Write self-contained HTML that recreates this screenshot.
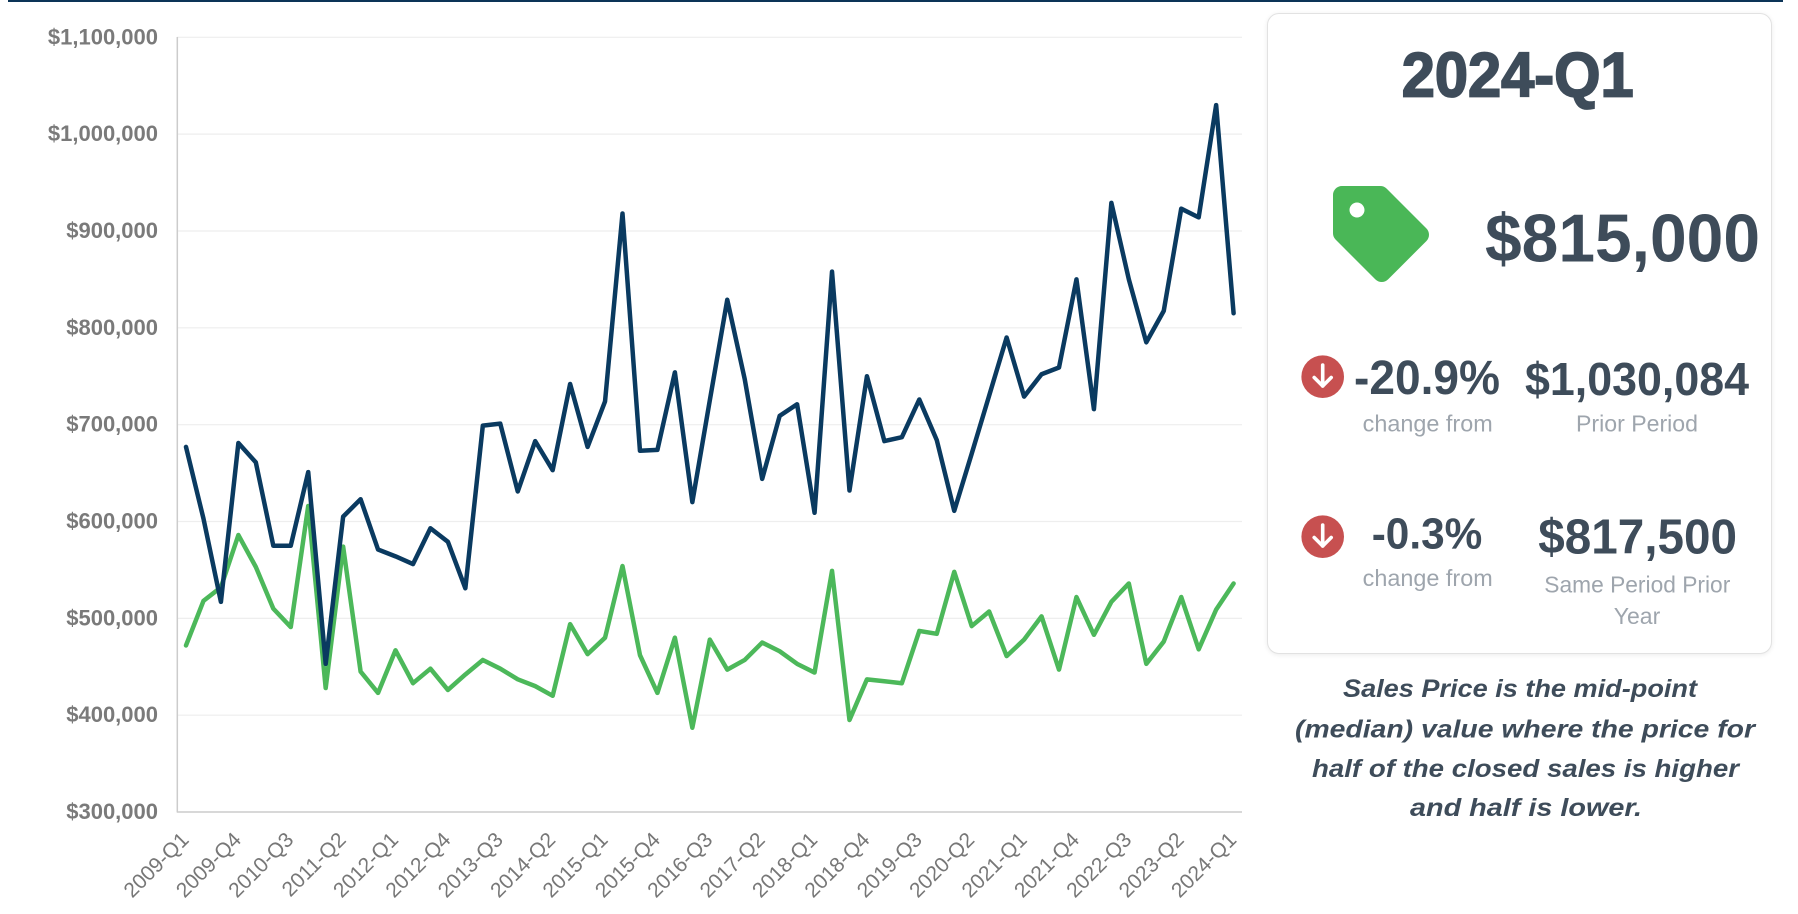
<!DOCTYPE html>
<html>
<head>
<meta charset="utf-8">
<style>
  html,body{margin:0;padding:0;background:#fff;}
  body{width:1798px;height:914px;overflow:hidden;position:relative;font-family:"Liberation Sans",Arial,sans-serif;}
  .card{position:absolute;left:1267px;top:13px;width:503px;height:639px;border:1px solid #e2e2e2;border-radius:12px;box-shadow:0 1px 5px rgba(0,0,0,0.08);background:#fff;}
  svg{position:absolute;left:0;top:0;}
</style>
</head>
<body>
<div class="card"></div>
<svg width="1798" height="914" viewBox="0 0 1798 914" xmlns="http://www.w3.org/2000/svg">
  <!-- top bar -->
  <rect x="8" y="0" width="1775" height="2" fill="#0c3457"/>

  <!-- gridlines -->
  <g stroke="#eeeeee" stroke-width="1.2">
    <line x1="177" y1="37.3" x2="1242" y2="37.3"/>
    <line x1="177" y1="134.1" x2="1242" y2="134.1"/>
    <line x1="177" y1="231.0" x2="1242" y2="231.0"/>
    <line x1="177" y1="327.8" x2="1242" y2="327.8"/>
    <line x1="177" y1="424.7" x2="1242" y2="424.7"/>
    <line x1="177" y1="521.5" x2="1242" y2="521.5"/>
    <line x1="177" y1="618.4" x2="1242" y2="618.4"/>
    <line x1="177" y1="715.2" x2="1242" y2="715.2"/>
  </g>
  <!-- axes -->
  <line x1="177.3" y1="37" x2="177.3" y2="812.5" stroke="#cccccc" stroke-width="1.5"/>
  <line x1="177" y1="812" x2="1242" y2="812" stroke="#cccccc" stroke-width="1.5"/>

  <!-- y labels -->
  <g font-family="Liberation Sans, Arial, sans-serif" font-size="22" font-weight="bold" fill="#7a7a7a" text-anchor="end">
    <text x="158" y="44.3">$1,100,000</text>
    <text x="158" y="141.1">$1,000,000</text>
    <text x="158" y="238">$900,000</text>
    <text x="158" y="334.8">$800,000</text>
    <text x="158" y="431.7">$700,000</text>
    <text x="158" y="528.5">$600,000</text>
    <text x="158" y="625.4">$500,000</text>
    <text x="158" y="722.2">$400,000</text>
    <text x="158" y="819">$300,000</text>
  </g>

  <!-- x labels -->
  <g font-family="Liberation Sans, Arial, sans-serif" font-size="21" fill="#777777" text-anchor="end">
    <text x="190" y="841" transform="rotate(-45 190 841)">2009-Q1</text>
    <text x="242.4" y="841" transform="rotate(-45 242.4 841)">2009-Q4</text>
    <text x="294.8" y="841" transform="rotate(-45 294.8 841)">2010-Q3</text>
    <text x="347.1" y="841" transform="rotate(-45 347.1 841)">2011-Q2</text>
    <text x="399.5" y="841" transform="rotate(-45 399.5 841)">2012-Q1</text>
    <text x="451.9" y="841" transform="rotate(-45 451.9 841)">2012-Q4</text>
    <text x="504.3" y="841" transform="rotate(-45 504.3 841)">2013-Q3</text>
    <text x="556.7" y="841" transform="rotate(-45 556.7 841)">2014-Q2</text>
    <text x="609" y="841" transform="rotate(-45 609 841)">2015-Q1</text>
    <text x="661.4" y="841" transform="rotate(-45 661.4 841)">2015-Q4</text>
    <text x="713.8" y="841" transform="rotate(-45 713.8 841)">2016-Q3</text>
    <text x="766.2" y="841" transform="rotate(-45 766.2 841)">2017-Q2</text>
    <text x="818.6" y="841" transform="rotate(-45 818.6 841)">2018-Q1</text>
    <text x="870.9" y="841" transform="rotate(-45 870.9 841)">2018-Q4</text>
    <text x="923.3" y="841" transform="rotate(-45 923.3 841)">2019-Q3</text>
    <text x="975.7" y="841" transform="rotate(-45 975.7 841)">2020-Q2</text>
    <text x="1028.1" y="841" transform="rotate(-45 1028.1 841)">2021-Q1</text>
    <text x="1080.5" y="841" transform="rotate(-45 1080.5 841)">2021-Q4</text>
    <text x="1132.8" y="841" transform="rotate(-45 1132.8 841)">2022-Q3</text>
    <text x="1185.2" y="841" transform="rotate(-45 1185.2 841)">2023-Q2</text>
    <text x="1237.6" y="841" transform="rotate(-45 1237.6 841)">2024-Q1</text>
  </g>

  <!-- series (data coords: x = index, y = value in thousands) -->
  <g transform="matrix(17.46 0 0 -0.9684 186 1102.52)" fill="none" stroke-linejoin="round" stroke-linecap="round">
    <polyline vector-effect="non-scaling-stroke" stroke="#4cb85a" stroke-width="4.5"
      points="0,472 1,518 2,532 3,586 4,553 5,510 6,491 7,616 8,428 9,574 10,445 11,423 12,467 13,433 14,448 15,426 16,442 17,457 18,448 19,437 20,430 21,420 22,494 23,463 24,480 25,554 26,462 27,423 28,480 29,387 30,478 31,447 32,457 33,475 34,466 35,453 36,444 37,549 38,395 39,437 40,435 41,433 42,487 43,484 44,548 45,492 46,507 47,461 48,478 49,502 50,447 51,522 52,483 53,517 54,536 55,453 56,476 57,522 58,468 59,509 60,536"/>
    <polyline vector-effect="non-scaling-stroke" stroke="#0a3a60" stroke-width="4.5"
      points="0,677 1,603 2,517 3,681 4,661 5,575 6,575 7,651 8,453 9,605 10,623 11,571 12,564 13,556 14,593 15,579 16,531 17,699 18,701 19,631 20,683 21,653 22,742 23,677 24,724 25,918 26,673 27,674 28,754 29,620 30,725 31,829 32,747 33,644 34,709 35,721 36,609 37,858 38,632 39,750 40,683 41,687 42,726 43,684 44,611 45,670 46,730 47,790 48,729 49,752 50,759 51,850 52,716 53,929 54,850 55,785 56,817.5 57,923 58,914 59,1030 60,815"/>
  </g>

  <!-- card content -->
  <g fill="#3e4c5a" font-family="Liberation Sans, Arial, sans-serif">
    <text x="1401.7" y="96.7" font-size="63" font-weight="bold" stroke="#3e4c5a" stroke-width="1.8" textLength="232" lengthAdjust="spacingAndGlyphs">2024-Q1</text>

    <!-- tag icon -->
    <g transform="translate(1333 186) scale(0.1875)">
      <path fill="#4ab757" fill-rule="evenodd" d="M0 252.118V48C0 21.49 21.490 0 48 0h204.118a48 48 0 0 1 33.941 14.059l211.882 211.882c18.745 18.745 18.745 49.137 0 67.882L293.823 497.941c-18.745 18.745-49.137 18.745-67.882 0L14.059 286.059A48 48 0 0 1 0 252.118zM128 88c-22 0-40 18-40 40s18 40 40 40 40-18 40-40-18-40-40-40z"/>
    </g>

    <text x="1485" y="261.7" font-size="68" font-weight="bold" textLength="275" lengthAdjust="spacingAndGlyphs">$815,000</text>

    <!-- row 1 -->
    <circle cx="1322.7" cy="376.7" r="21.3" fill="#c75050"/>
    <g stroke="#ffffff" stroke-width="3.6" fill="none" stroke-linecap="round" stroke-linejoin="round">
      <line x1="1322.7" y1="365" x2="1322.7" y2="386"/>
      <polyline points="1314.2,377.5 1322.7,386 1331.2,377.5"/>
    </g>
    <text x="1354" y="394" font-size="48" font-weight="bold" textLength="146" lengthAdjust="spacingAndGlyphs">-20.9%</text>
    <text x="1525" y="395" font-size="46" font-weight="bold" textLength="224" lengthAdjust="spacingAndGlyphs">$1,030,084</text>
    <text x="1362.7" y="431.7" font-size="23" fill="#9ea5ad" textLength="130" lengthAdjust="spacingAndGlyphs">change from</text>
    <text x="1576" y="431.7" font-size="23" fill="#9ea5ad" textLength="122" lengthAdjust="spacingAndGlyphs">Prior Period</text>

    <!-- row 2 -->
    <circle cx="1322.7" cy="536.7" r="21.3" fill="#c75050"/>
    <g stroke="#ffffff" stroke-width="3.6" fill="none" stroke-linecap="round" stroke-linejoin="round">
      <line x1="1322.7" y1="525" x2="1322.7" y2="546"/>
      <polyline points="1314.2,537.5 1322.7,546 1331.2,537.5"/>
    </g>
    <text x="1371.7" y="548.3" font-size="44" font-weight="bold" textLength="110.6" lengthAdjust="spacingAndGlyphs">-0.3%</text>
    <text x="1538.3" y="553.3" font-size="49" font-weight="bold" textLength="198.7" lengthAdjust="spacingAndGlyphs">$817,500</text>
    <text x="1362.7" y="586" font-size="23" fill="#9ea5ad" textLength="130" lengthAdjust="spacingAndGlyphs">change from</text>
    <text x="1544.3" y="592.7" font-size="23" fill="#9ea5ad" textLength="186" lengthAdjust="spacingAndGlyphs">Same Period Prior</text>
    <text x="1637" y="624" font-size="23" fill="#9ea5ad" text-anchor="middle">Year</text>
  </g>

  <!-- caption -->
  <g fill="#3e4c5a" font-family="Liberation Sans, Arial, sans-serif" font-size="25" font-weight="bold" font-style="italic">
    <text x="1343" y="697" textLength="354" lengthAdjust="spacingAndGlyphs">Sales Price is the mid-point</text>
    <text x="1295" y="737.5" textLength="460" lengthAdjust="spacingAndGlyphs">(median) value where the price for</text>
    <text x="1312" y="777" textLength="427" lengthAdjust="spacingAndGlyphs">half of the closed sales is higher</text>
    <text x="1410" y="816" textLength="232" lengthAdjust="spacingAndGlyphs">and half is lower.</text>
  </g>
</svg>
</body>
</html>
